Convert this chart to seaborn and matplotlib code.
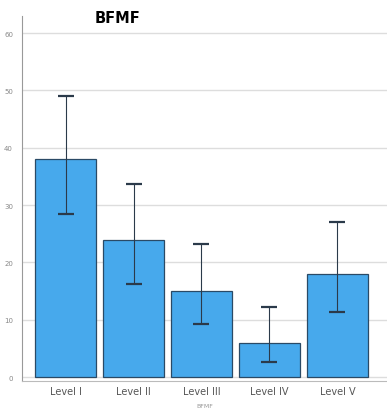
import numpy as np
import pandas as pd
import matplotlib
matplotlib.use("Agg")
import matplotlib.pyplot as plt
import seaborn as sns

niveis = ["Level I", "Level II", "Level III", "Level IV", "Level V"]
medias = [38, 24, 15, 6, 18]
erro_inf = [28.4, 16.3, 9.2, 2.7, 11.4]
erro_sup = [49.0, 33.7, 23.3, 12.2, 27.0]

df = pd.DataFrame({"nivel": niveis, "media": medias})

sns.set_style("white")
plt.rcParams["font.family"] = ["DejaVu Sans"]

fig = plt.figure(figsize=(3.87, 4.14), dpi=100)
ax = fig.add_axes([0.057, 0.077, 0.943, 0.882])

sns.barplot(x="nivel", y="media", data=df, color="#47A9EC", saturation=1,
            width=0.9, edgecolor="#2a4a66", linewidth=0.9, errorbar=None, ax=ax)

# barras de erro assimetricas
y = np.array(medias)
yerr = [y - np.array(erro_inf), np.array(erro_sup) - y]
ax.errorbar(range(len(niveis)), y, yerr=yerr, fmt="none", ecolor="#2b3a4a",
            elinewidth=0.8, capsize=5.5, capthick=1.6)

ax.set_ylim(-0.7, 63)
ax.set_xlim(-0.64, 4.73)
ax.set_yticks([0, 10, 20, 30, 40, 50, 60])
ax.yaxis.grid(True, color="#dddddd", linewidth=1)
ax.set_axisbelow(True)
ax.tick_params(axis="y", labelsize=5, colors="#888888", length=3, width=0.6)
ax.tick_params(axis="x", labelsize=7, colors="#555555", length=0)
for s in ["top", "right"]:
    ax.spines[s].set_visible(False)
ax.spines["left"].set_color("#999999")
ax.spines["bottom"].set_color("#bbbbbb")
ax.set_xlabel("BFMF", fontsize=4.5, color="#999999", labelpad=5)
ax.set_ylabel("")

fig.text(0.245, 0.945, "BFMF", fontsize=10.5, fontweight="bold", color="black")

fig.savefig("out.png", dpi=100)
